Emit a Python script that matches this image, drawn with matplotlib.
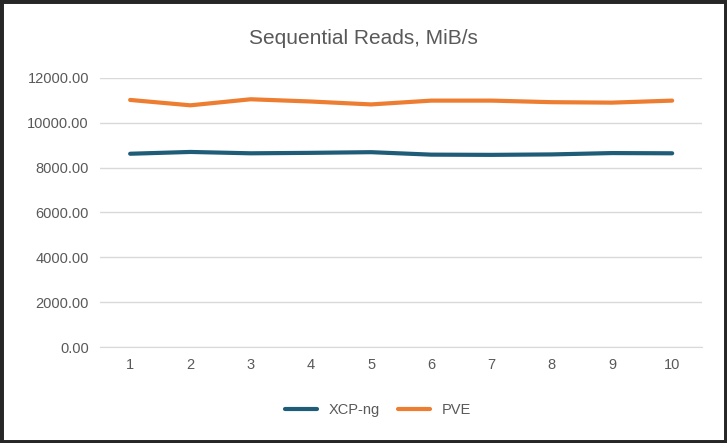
import matplotlib
matplotlib.use("Agg")
import matplotlib.pyplot as plt
from matplotlib.patches import Rectangle

runs = [1, 2, 3, 4, 5, 6, 7, 8, 9, 10]
xcp = [8620, 8700, 8640, 8660, 8690, 8580, 8570, 8590, 8650, 8640]
pve = [11020, 10780, 11050, 10950, 10820, 10990, 10990, 10920, 10900, 10990]
yticks = [0, 2000, 4000, 6000, 8000, 10000, 12000]

plt.rcParams["font.family"] = "Liberation Sans"
fig = plt.figure(figsize=(7.27, 4.43), dpi=100)
fig.patches.append(Rectangle((0, 0), 1, 1, transform=fig.transFigure, fill=False,
                             edgecolor="#262626", linewidth=5))
ax = fig.add_axes([0.1376, 0.2167, 0.8284, 0.6073])
ax.plot(runs, xcp, color="#1F5C78", lw=3, label="XCP-ng", solid_capstyle="round")
ax.plot(runs, pve, color="#ED7D31", lw=3, label="PVE", solid_capstyle="round")
ax.set_xlim(0.5, 10.5)
ax.set_ylim(0, 12000)
ax.set_xticks(runs)
ax.set_yticks(yticks)
ax.set_yticklabels([f"{v:.2f}" for v in yticks])
ax.grid(axis="y", color="#D9D9D9", lw=1)
ax.set_axisbelow(True)
for s in ["top", "right", "left"]:
    ax.spines[s].set_visible(False)
ax.spines["bottom"].set_color("#D9D9D9")
ax.tick_params(length=0, labelsize=10.5, colors="#595959", pad=8)
fig.suptitle("Sequential Reads, MiB/s", y=0.935, fontsize=15, color="#595959")
fig.legend(loc="center", bbox_to_anchor=(0.52, 0.075), ncol=2, frameon=False,
           fontsize=10.5, labelcolor="#595959", handlelength=2.2, columnspacing=1.2)
fig.savefig("out.png", dpi=100)
